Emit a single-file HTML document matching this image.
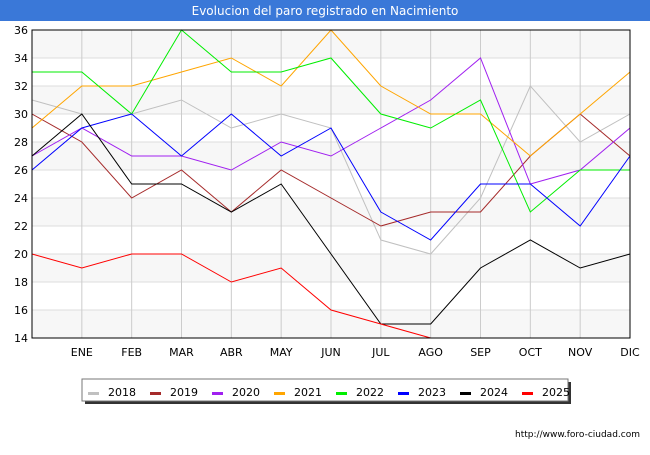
<!DOCTYPE html>
<html><head><meta charset="utf-8"><style>
body{margin:0;background:#fff;font-family:"Liberation Sans","DejaVu Sans",sans-serif}
svg text{font-family:"DejaVu Sans","Liberation Sans",sans-serif}
</style></head><body>
<svg id="c" width="650" height="450" xmlns="http://www.w3.org/2000/svg">
<rect x="0" y="0" width="650" height="450" fill="#fff"/>
<rect x="0" y="0" width="650" height="21" fill="#3a78d8"/>
<text x="325" y="15" text-anchor="middle" font-size="12" fill="#fff">Evolucion del paro registrado en Nacimiento</text>
<g id="grid"></g><g id="series"></g><g id="axes"></g>
<rect x="32" y="30" width="598" height="308" fill="none" stroke="#000" stroke-width="1"/>
<rect x="85" y="382" width="486" height="22" fill="#333"/>
<rect x="82" y="379" width="486" height="22" fill="#fff" stroke="#777"/>
<g id="legend"></g>
<text x="640" y="437" text-anchor="end" font-size="9" fill="#000">http://www.foro-ciudad.com</text>
</svg>
<script>
const months=["","ENE","FEB","MAR","ABR","MAY","JUN","JUL","AGO","SEP","OCT","NOV","DIC"];
const yTicks=[14,16,18,20,22,24,26,28,30,32,34,36];
const years=["2018","2019","2020","2021","2022","2023","2024","2025"];
const colors=["#c0c0c0","#a52a2a","#a020f0","#ffa500","#00ee00","#0000ff","#000000","#ff0000"];
const s2018=[31,30,30,31,29,30,29,21,20,24,32,28,30];
const s2019=[30,28,24,26,23,26,24,22,23,23,27,30,27];
const s2020=[27,29,27,27,26,28,27,29,31,34,25,26,29];
const s2021=[29,32,32,33,34,32,36,32,30,30,27,30,33];
const s2022=[33,33,30,36,33,33,34,30,29,31,23,26,26];
const s2023=[26,29,30,27,30,27,29,23,21,25,25,22,27];
const s2024=[27,30,25,25,23,25,20,15,15,19,21,19,20];
const s2025=[20,19,20,20,18,19,16,15,14];
const allSeries=[s2018,s2019,s2020,s2021,s2022,s2023,s2024,s2025];
const X0=32,X1=630,Y0=338,Y1=30,YMIN=14,YMAX=36;
const xs=i=>X0+(X1-X0)*i/(months.length-1);
const ys=v=>Y0-(v-YMIN)/(YMAX-YMIN)*(Y0-Y1);
const NS="http://www.w3.org/2000/svg";
function mk(t,a,p){const e=document.createElementNS(NS,t);for(const k in a)e.setAttribute(k,a[k]);p.appendChild(e);return e;}
const grid=document.getElementById('grid'),axes=document.getElementById('axes'),ser=document.getElementById('series'),leg=document.getElementById('legend');
for(let i=0;i<yTicks.length-1;i++){
 if(i%2===0){const b=mk('rect',{x:X0,y:ys(yTicks[i+1]),width:X1-X0,height:ys(yTicks[i])-ys(yTicks[i+1]),fill:'#f7f7f7'},grid);
 
 }
}
yTicks.forEach(v=>{
 const l=mk('line',{x1:X0,x2:X1,y1:ys(v),y2:ys(v),stroke:'#ddd'},grid);
 
 
 const t=mk('text',{x:X0-4,y:ys(v)+4,'text-anchor':'end','font-size':'11',fill:'#000'},axes);t.textContent=v;
 
 
});
months.forEach((m,i)=>{
 const l=mk('line',{x1:xs(i),x2:xs(i),y1:Y1,y2:Y0,stroke:'#ccc'},grid);
 
 
 if(m){const t=mk('text',{x:xs(i),y:Y0+18,'text-anchor':'middle','font-size':'11',fill:'#000'},axes);t.textContent=m;
 
 }
});
allSeries.forEach((s,k)=>{
 const p=mk('polyline',{points:s.map((v,i)=>xs(i)+','+ys(v)).join(' '),fill:'none',stroke:colors[k],'stroke-width':'1'},ser);
 
 
 const lx=88+k*62;
 const sw=mk('rect',{x:lx,y:392,width:11,height:3,fill:colors[k]},leg);
 
 
 const t=mk('text',{x:lx+20,y:396,'font-size':'11',fill:'#000'},leg);t.textContent=years[k];
 
 
});
</script>
</body></html>
